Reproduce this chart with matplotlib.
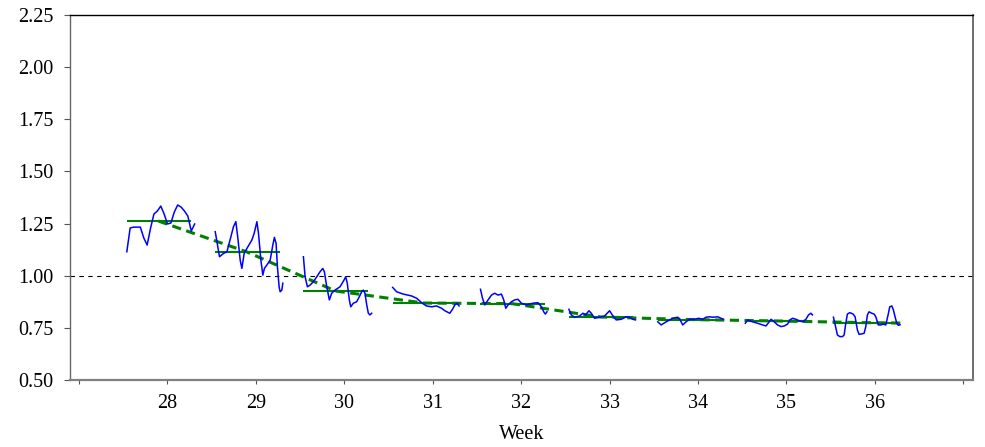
import numpy as np
import matplotlib
matplotlib.use("Agg")
import matplotlib.pyplot as plt

plt.rcParams['font.family'] = ['Liberation Serif', 'DejaVu Serif']

# ---- data ----
weeks = [28, 29, 30, 31, 32, 33, 34, 35, 36]
week_means = [1.262, 1.114, 0.927, 0.869, 0.866, 0.802, 0.790, 0.783, 0.775]

trend_x = [27.9, 28.9, 29.9, 30.9, 31.9, 32.9, 33.9, 34.9, 35.9, 36.3]
trend_y = [1.262, 1.114, 0.927, 0.869, 0.866, 0.802, 0.790, 0.783, 0.775, 0.773]

w28_x = [27.542, 27.580, 27.619, 27.657, 27.695, 27.734, 27.772, 27.811, 27.849, 27.887, 27.926,
         27.964, 28.002, 28.041, 28.079, 28.117, 28.156, 28.194, 28.232, 28.271, 28.309]
w28_y = [1.115, 1.229, 1.233, 1.233, 1.233, 1.181, 1.147, 1.229, 1.296, 1.310, 1.334,
         1.296, 1.248, 1.253, 1.305, 1.339, 1.329, 1.310, 1.286, 1.214, 1.248]

w29_x = [28.542, 28.590, 28.636, 28.674, 28.719, 28.748, 28.775, 28.798, 28.824, 28.843, 28.869,
         28.900, 28.956, 28.982, 29.013, 29.031, 29.058, 29.080, 29.098, 29.125, 29.163, 29.193,
         29.211, 29.230, 29.245, 29.264, 29.276, 29.295, 29.306]
w29_y = [1.211, 1.091, 1.107, 1.115, 1.187, 1.235, 1.259, 1.179, 1.075, 1.035, 1.107,
         1.131, 1.171, 1.203, 1.259, 1.203, 1.075, 1.003, 1.035, 1.051, 1.075, 1.147,
         1.184, 1.155, 1.043, 0.947, 0.923, 0.931, 0.964]

w30_x = [29.539, 29.558, 29.584, 29.614, 29.651, 29.690, 29.727, 29.758, 29.776, 29.803, 29.832,
         29.859, 29.896, 29.953, 29.998, 30.017, 30.035, 30.058, 30.074, 30.103, 30.141, 30.171,
         30.198, 30.216, 30.235, 30.255, 30.273, 30.291, 30.311]
w30_y = [1.091, 0.995, 0.947, 0.955, 0.971, 0.995, 1.019, 1.035, 1.019, 0.947, 0.884,
         0.916, 0.931, 0.947, 0.979, 0.995, 0.964, 0.884, 0.851, 0.868, 0.875, 0.899,
         0.923, 0.931, 0.916, 0.860, 0.820, 0.812, 0.820]

w31_x = [30.548, 30.593, 30.667, 30.762, 30.819, 30.875, 30.931, 30.988, 31.044, 31.101, 31.138,
         31.194, 31.225, 31.251, 31.277, 31.299]
w31_y = [0.944, 0.923, 0.912, 0.903, 0.892, 0.871, 0.855, 0.851, 0.855, 0.844, 0.832,
         0.820, 0.839, 0.860, 0.868, 0.855]

w32_x = [31.541, 31.564, 31.590, 31.627, 31.665, 31.702, 31.740, 31.778, 31.804, 31.827, 31.853,
         31.891, 31.928, 31.965, 32.004, 32.060, 32.135, 32.191, 32.230, 32.256, 32.275, 32.293]
w32_y = [0.935, 0.892, 0.860, 0.884, 0.907, 0.916, 0.907, 0.912, 0.884, 0.844, 0.860,
         0.875, 0.884, 0.887, 0.868, 0.860, 0.868, 0.871, 0.851, 0.827, 0.816, 0.827]

w33_x = [32.541, 32.568, 32.606, 32.662, 32.699, 32.730, 32.767, 32.794, 32.831, 32.888, 32.944,
         33.001, 33.031, 33.076, 33.133, 33.189, 33.226, 33.264, 33.294]
w33_y = [0.839, 0.812, 0.801, 0.807, 0.820, 0.812, 0.832, 0.820, 0.796, 0.801, 0.807,
         0.832, 0.812, 0.788, 0.791, 0.803, 0.801, 0.791, 0.788]

w34_x = [33.546, 33.584, 33.641, 33.715, 33.772, 33.799, 33.828, 33.866, 33.904, 33.960, 34.009,
         34.054, 34.092, 34.129, 34.166, 34.223, 34.261, 34.287]
w34_y = [0.779, 0.764, 0.779, 0.796, 0.801, 0.788, 0.764, 0.779, 0.791, 0.791, 0.796,
         0.791, 0.801, 0.803, 0.801, 0.803, 0.796, 0.791]

w35_x = [34.536, 34.562, 34.618, 34.675, 34.731, 34.769, 34.799, 34.826, 34.863, 34.900, 34.939,
         34.976, 35.013, 35.040, 35.070, 35.108, 35.145, 35.183, 35.221, 35.250, 35.277, 35.295]
w35_y = [0.772, 0.788, 0.779, 0.772, 0.764, 0.759, 0.775, 0.791, 0.779, 0.764, 0.756,
         0.759, 0.768, 0.788, 0.796, 0.791, 0.784, 0.779, 0.791, 0.812, 0.820, 0.812]

w36_x = [35.532, 35.552, 35.577, 35.605, 35.634, 35.653, 35.672, 35.690, 35.717, 35.755, 35.777,
         35.803, 35.822, 35.853, 35.879, 35.898, 35.916, 35.935, 35.966, 35.992, 36.011, 36.040,
         36.068, 36.094, 36.124, 36.150, 36.169, 36.192, 36.210, 36.229, 36.248, 36.266, 36.285]
w36_y = [0.801, 0.764, 0.716, 0.708, 0.708, 0.716, 0.772, 0.816, 0.823, 0.816, 0.803,
         0.740, 0.719, 0.721, 0.724, 0.756, 0.812, 0.827, 0.820, 0.816, 0.803, 0.764,
         0.764, 0.768, 0.764, 0.812, 0.851, 0.855, 0.836, 0.803, 0.772, 0.762, 0.765]

segments_x = [w28_x, w29_x, w30_x, w31_x, w32_x, w33_x, w34_x, w35_x, w36_x]
segments_y = [w28_y, w29_y, w30_y, w31_y, w32_y, w33_y, w34_y, w35_y, w36_y]

x_ticks = [27, 28, 29, 30, 31, 32, 33, 34, 35, 36, 37]
x_ticklabels = ['', '28', '29', '30', '31', '32', '33', '34', '35', '36', '']
y_ticks = [0.50, 0.75, 1.00, 1.25, 1.50, 1.75, 2.00, 2.25]

# ---- figure ----
fig = plt.figure(figsize=(9.85, 4.47), dpi=100)
ax = fig.add_axes([0.0711, 0.1499, 0.9167, 0.8165])

ax.axhline(1.0, color='black', lw=0.8, linestyle=(0, (4, 4)), zorder=1)

for w, m, sx in zip(weeks, week_means, segments_x):
    ax.plot([sx[0], w + 0.27], [m, m], color='#008000', lw=1.5, zorder=2,
            solid_capstyle='butt')

ax.plot(trend_x, trend_y, color='#008000', lw=2.2, linestyle=(0, (3, 1.8)), zorder=3)

for sx, sy in zip(segments_x, segments_y):
    ax.plot(sx, sy, color='#0000ff', lw=1.1, zorder=4)

ax.set_xlim(26.9, 37.11)
ax.set_ylim(0.5, 2.25)
ax.set_xticks(x_ticks)
ax.set_xticklabels(x_ticklabels)
ax.set_yticks(y_ticks)
ax.set_yticklabels([f'{v:.2f}' for v in y_ticks])

ax.tick_params(axis='y', direction='out', length=4, width=0.8, color='#555555',
               labelsize=14.5, pad=8)
ax.tick_params(axis='x', direction='out', length=3, width=0.8, color='#555555',
               labelsize=14.5, pad=7)

ax.spines['top'].set_color('black')
ax.spines['top'].set_linewidth(1.0)
ax.spines['left'].set_color('#666666')
ax.spines['left'].set_linewidth(1.0)
ax.spines['bottom'].set_color('#808080')
ax.spines['bottom'].set_linewidth(1.6)
ax.spines['right'].set_color('#555555')
ax.spines['right'].set_linewidth(1.2)

ax.set_xlabel('Week', fontsize=14.5, labelpad=9)

fig.savefig('out.png', dpi=100)
